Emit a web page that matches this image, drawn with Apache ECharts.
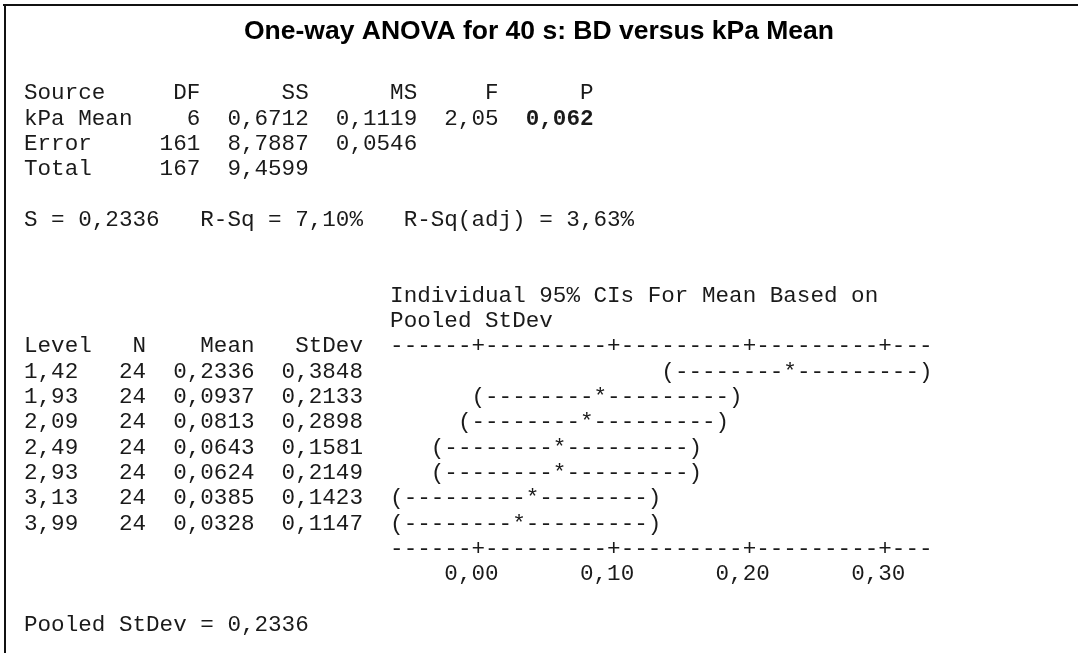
<!DOCTYPE html>
<html>
<head>
<meta charset="utf-8">
<script src="https://cdn.jsdelivr.net/npm/echarts@6/dist/echarts.min.js"></script>
<style>
  html, body { margin: 0; padding: 0; background: #fff; }
  #chart { width: 1078px; height: 653px; }
</style>
</head>
<body>
<div id="chart"></div>
<script>
// ---------------- data ----------------
const titleText = 'One-way ANOVA for 40 s: BD versus kPa Mean';
const anovaSources = ['kPa Mean', 'Error', 'Total'];
const anovaDF = [6, 161, 167];
const anovaSS = [0.6712, 8.7887, 9.4599];
const anovaMS = [0.1119, 0.0546];
const anovaF = 2.05;
const anovaP = 0.062;
const fitS = 0.2336;
const fitRSq = 7.10;
const fitRSqAdj = 3.63;
const pooledStDev = 0.2336;

const levels = ['1,42', '1,93', '2,09', '2,49', '2,93', '3,13', '3,99'];
const nObs = [24, 24, 24, 24, 24, 24, 24];
const means = [0.2336, 0.0937, 0.0813, 0.0643, 0.0624, 0.0385, 0.0328];
const stdevs = [0.3848, 0.2133, 0.2898, 0.1581, 0.2149, 0.1423, 0.1147];
const ciLow = [0.1394, -0.0005, -0.0129, -0.0299, -0.0318, -0.0557, -0.0614];
const ciHigh = [0.3278, 0.1879, 0.1755, 0.1585, 0.1566, 0.1327, 0.1270];
const tickValues = [0.00, 0.10, 0.20, 0.30];
const ruleRange = [-0.06, 0.33];

// ---------------- layout / style ----------------
const FS = 22.6;              // monospace font size
const CW = FS * 0.6;          // char width
const LH = 25.3;              // line pitch
const L0 = 93.5;              // centre y of first text line
const X0 = 24;                // left x of column 0
const INK = '#1a1a1a';
const FONT = FS + 'px "Liberation Mono", "Courier New", monospace';
const FONT_B = 'bold ' + FONT;
const PX = CW * 100;          // px per unit on the CI scale
const ZERO_X = X0 + 33.5 * CW;
const lineY = n => L0 + n * LH;

const fmt = (v, d) => (Math.round(v * Math.pow(10, d)) / Math.pow(10, d)).toFixed(d).replace('.', ',');
const padL = (s, w) => String(s).padStart(w);
const padR = (s, w) => String(s).padEnd(w);

// ---------------- text lines ----------------
const anovaLines = [];
anovaLines.push('Source     DF      SS      MS     F      P');
anovaSources.forEach((src, i) => {
  let s = padR(src, 8) + padL(anovaDF[i], 5) + '  ' + fmt(anovaSS[i], 4);
  if (i < anovaMS.length) s += '  ' + fmt(anovaMS[i], 4);
  if (i === 0) s += '  ' + fmt(anovaF, 2) + '  ';
  anovaLines.push(s);
});
const sLine = 'S = ' + fmt(fitS, 4) + '   R-Sq = ' + fmt(fitRSq, 2) + '%   R-Sq(adj) = ' + fmt(fitRSqAdj, 2) + '%';

const graphics = [];
function addText(str, col, line, bold) {
  graphics.push({
    type: 'text', x: X0 + col * CW, y: lineY(line), silent: true,
    style: { text: str, font: bold ? FONT_B : FONT, fill: INK, textVerticalAlign: 'middle' }
  });
}
anovaLines.forEach((s, i) => addText(s, 0, i));
addText(fmt(anovaP, 3), anovaLines[1].length, 1, true);
addText(sLine, 0, 5);
addText('Individual 95% CIs For Mean Based on', 27, 8);
addText('Pooled StDev', 27, 9);
addText('Level   N    Mean   StDev', 0, 10);
addText('Pooled StDev = ' + fmt(pooledStDev, 4), 0, 21);

// frame (top and left rules)
graphics.push({ type: 'rect', silent: true, shape: { x: 3, y: 4, width: 1075, height: 2 }, style: { fill: '#111' } });
graphics.push({ type: 'rect', silent: true, shape: { x: 4, y: 4, width: 2, height: 649 }, style: { fill: '#111' } });

// ---------------- series data ----------------
const ciData = levels.map((lv, i) => [ciLow[i], means[i], ciHigh[i], i]);

function charEl(ch, p) {
  return { type: 'text', x: p[0], y: p[1], silent: true,
    style: { text: ch, font: FONT, fill: INK, textAlign: 'center', textVerticalAlign: 'middle' } };
}

function renderCI(params, api) {
  const i = params.dataIndex;
  const cat = api.value(3);
  const yc = api.coord([0, cat])[1];
  const children = [];
  const rowText = padR(levels[i], 4) + padL(nObs[i], 5) + '  ' + fmt(means[i], 4) + '  ' + fmt(stdevs[i], 4);
  children.push({ type: 'text', x: X0, y: yc, silent: true,
    style: { text: rowText, font: FONT, fill: INK, textVerticalAlign: 'middle' } });
  const qLo = Math.round(api.value(0) * 100);
  const qMean = Math.round(api.value(1) * 100);
  const qHi = Math.round(api.value(2) * 100);
  for (let q = qLo; q <= qHi; q++) {
    const ch = q === qLo ? '(' : (q === qHi ? ')' : (q === qMean ? '*' : '-'));
    children.push(charEl(ch, api.coord([q / 100, cat])));
  }
  return { type: 'group', children };
}

function renderRules(params, api) {
  const band = api.size([0, 1])[1];
  const first = api.coord([0, 0])[1] - band;
  const last = api.coord([0, levels.length - 1])[1] + band;
  const children = [];
  const q0 = Math.round(ruleRange[0] * 100), q1 = Math.round(ruleRange[1] * 100);
  [first, last].forEach(y => {
    for (let q = q0; q <= q1; q++) {
      const isTick = tickValues.some(t => Math.round(t * 100) === q);
      const x = api.coord([q / 100, 0])[0];
      children.push(charEl(isTick ? '+' : '-', [x, y]));
    }
  });
  return { type: 'group', children };
}

// ---------------- chart ----------------
const chart = echarts.init(document.getElementById('chart'), null, { renderer: 'canvas' });
const gridTop = lineY(11) - LH / 2;
chart.setOption({
  animation: false,
  backgroundColor: '#fff',
  title: {
    text: titleText, left: 'center', top: 13,
    textStyle: { fontFamily: 'Liberation Sans', fontWeight: 'bold', fontSize: 26.5, color: '#000' }
  },
  grid: {
    left: ZERO_X - 0.1 * PX, width: 0.5 * PX,
    top: gridTop, height: levels.length * LH,
    containLabel: false
  },
  xAxis: {
    type: 'value', min: -0.1, max: 0.4, interval: 0.1,
    axisLine: { show: false }, axisTick: { show: false }, splitLine: { show: false },
    axisLabel: {
      margin: LH, lineHeight: LH,
      fontFamily: 'Liberation Mono', fontSize: FS, color: INK,
      formatter: v => tickValues.some(t => Math.round(t * 100) === Math.round(v * 100)) ? fmt(v, 2) + ' ' : ''
    }
  },
  yAxis: {
    type: 'category', data: levels, inverse: true, show: false
  },
  graphic: { elements: graphics },
  series: [
    { type: 'custom', name: 'CI', renderItem: renderCI, data: ciData,
      encode: { x: [0, 1, 2], y: 3 }, clip: false, silent: true },
    { type: 'custom', name: 'rules', renderItem: renderRules, data: [[0, 0]],
      encode: { x: 0, y: 1 }, clip: false, silent: true }
  ]
});
</script>
</body>
</html>
